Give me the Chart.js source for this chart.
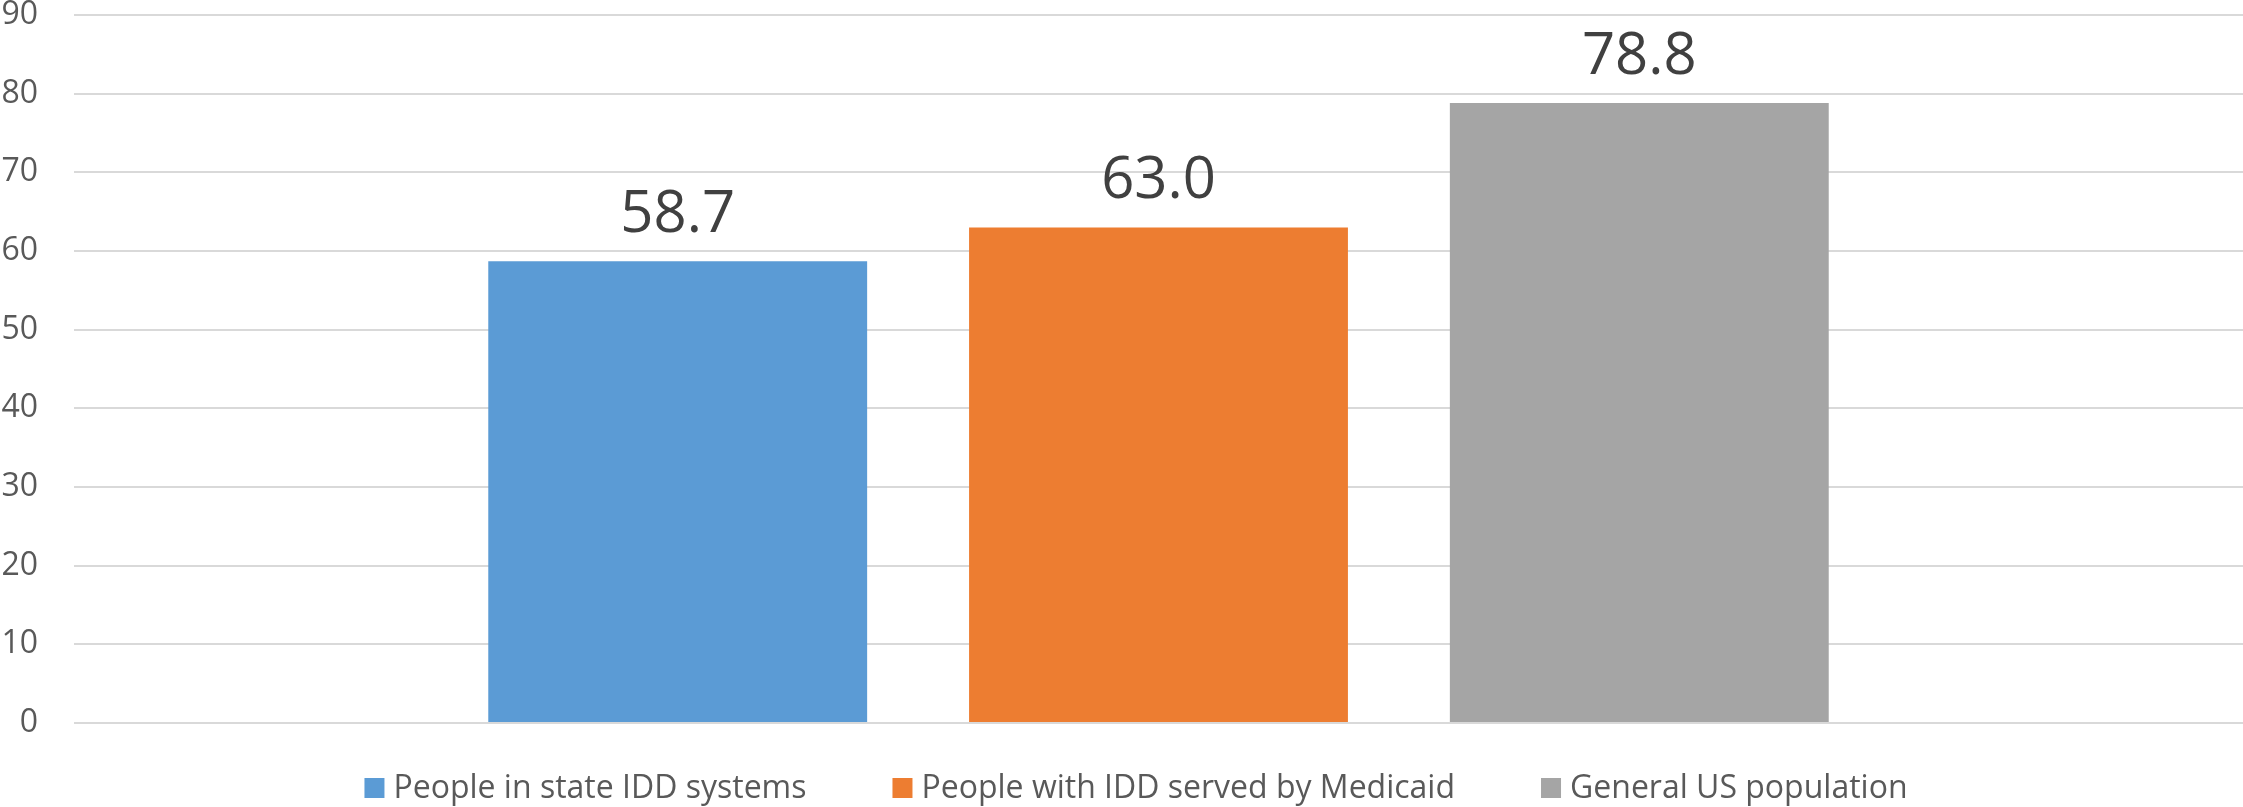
<!DOCTYPE html>
<html>
<head>
<meta charset="utf-8">
<title>Life expectancy comparison</title>
<script src="https://cdn.jsdelivr.net/npm/chart.js@4"></script>
<style>
  html, body { margin: 0; padding: 0; background: #fff; }
  canvas { display: block; }
</style>
</head>
<body>
<canvas id="myChart" width="2243" height="807"></canvas>
<script>
const groups = ["People in state IDD systems", "People with IDD served by Medicaid", "General US population"];
const values = [58.7, 63.0, 78.8];
const colors = ["#5B9BD5", "#ED7D31", "#A5A5A5"];
const yTicks = [0, 10, 20, 30, 40, 50, 60, 70, 80, 90];

const FONT = "'Open Sans', 'DejaVu Sans', sans-serif";

// value printed above each bar
const barValues = {
  id: 'barValues',
  afterDatasetsDraw(chart) {
    const ctx = chart.ctx;
    ctx.save();
    ctx.font = "58px " + FONT;
    ctx.fillStyle = "#404040";
    ctx.textAlign = "center";
    ctx.textBaseline = "alphabetic";
    chart.data.datasets.forEach((ds, i) => {
      chart.getDatasetMeta(i).data.forEach((bar, j) => {
        ctx.fillText(ds.data[j].toFixed(1), bar.x, bar.y - 29);
      });
    });
    ctx.restore();
  }
};

// legend row under the plot
const bottomLegend = {
  id: 'bottomLegend',
  afterDraw(chart) {
    const ctx = chart.ctx;
    const box = 20, gap = 9, spacing = 86, y = 788;
    ctx.save();
    ctx.font = "32px " + FONT;
    const widths = chart.data.datasets.map(ds => ctx.measureText(ds.label).width);
    const total = widths.reduce((a, w) => a + box + gap + w, 0) + spacing * (widths.length - 1);
    let x = 1136 - total / 2;
    ctx.textBaseline = "middle";
    chart.data.datasets.forEach((ds, i) => {
      ctx.fillStyle = ds.backgroundColor;
      ctx.fillRect(x, y - box / 2, box, box);
      ctx.fillStyle = "#595959";
      ctx.fillText(ds.label, x + box + gap, y + 1);
      x += box + gap + widths[i] + spacing;
    });
    ctx.restore();
  }
};

const datasets = groups.map((label, i) => ({
  label: label,
  data: [values[i]],
  backgroundColor: colors[i],
  categoryPercentage: 0.665,
  barPercentage: 0.788
}));

new Chart(document.getElementById("myChart").getContext("2d"), {
  type: 'bar',
  data: { labels: [''], datasets: datasets },
  options: {
    responsive: false,
    animation: false,
    devicePixelRatio: 1,
    layout: { padding: { top: 15, bottom: 84, left: 0, right: 0 } },
    plugins: {
      legend: { display: false },
      tooltip: { enabled: false }
    },
    scales: {
      x: { display: false },
      y: {
        min: yTicks[0],
        max: yTicks[yTicks.length - 1],
        afterFit(scale) {
          scale.width = 74;
          scale.paddingTop = 0;
          scale.paddingBottom = 0;
        },
        border: { display: false },
        grid: { color: "#D9D9D9", lineWidth: 2, drawTicks: false },
        ticks: {
          stepSize: yTicks[1] - yTicks[0],
          padding: 36,
          color: "#595959",
          font: { family: FONT, size: 32 }
        }
      }
    }
  },
  plugins: [barValues, bottomLegend]
});
</script>
</body>
</html>
